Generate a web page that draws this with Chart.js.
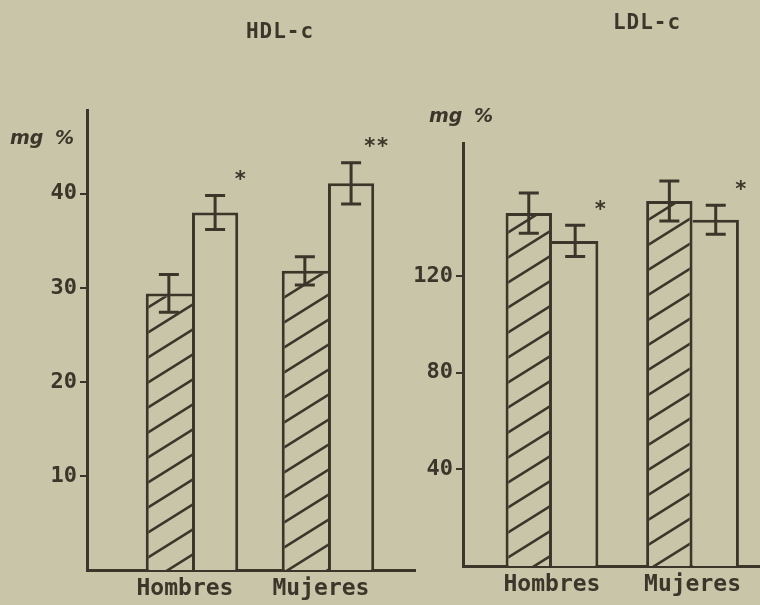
<!DOCTYPE html>
<html><head><meta charset="utf-8">
<script src="https://cdn.jsdelivr.net/npm/chart.js@4.4.1/dist/chart.umd.min.js"></script>
<style>
html,body{margin:0;padding:0;background:rgb(201,197,168);}
body{width:760px;height:605px;position:relative;overflow:hidden;}
canvas{position:absolute;top:0;}
.t{position:absolute;font-family:'DejaVu Sans Mono';font-weight:bold;color:rgb(60,53,42);font-size:21px;letter-spacing:1px;transform:translate(-50%,-50%);white-space:nowrap}
.u{position:absolute;font-family:'DejaVu Sans';font-style:italic;font-weight:bold;color:rgb(60,53,42);font-size:19px;transform:translate(-50%,-50%);white-space:nowrap;word-spacing:5px}
</style></head><body>
<canvas id="hdl" width="430" height="605" style="left:0"></canvas>
<canvas id="ldl" width="360" height="605" style="left:400px"></canvas>
<div class="t" style="left:280px;top:31px">HDL-c</div>
<div class="t" style="left:647px;top:22px">LDL-c</div>
<div class="u" style="left:42px;top:137px">mg %</div>
<div class="u" style="left:461px;top:115px">mg %</div>
<script>
// ---- data ----
const categories = ['Hombres', 'Mujeres'];
const hdlHatched = [29.4, 31.8];
const hdlHatchedErr = [2.0, 1.5];
const hdlWhite = [38.0, 41.1];
const hdlWhiteErr = [1.8, 2.2];
const hdlSig = ['*', '**'];
const hdlTicks = [10, 20, 30, 40];

const ldlHatched = [146.0, 151.0];
const ldlHatchedErr = [8.3, 8.3];
const ldlWhite = [134.5, 143.2];
const ldlWhiteErr = [6.5, 6.0];
const ldlSig = ['*', '*'];
const ldlTicks = [40, 80, 120];

// ---- style ----
const ink = 'rgb(60,53,42)';
const paper = 'rgb(201,197,168)';
const monoFont = 'DejaVu Sans Mono';

function hatch() {
  const W = 40, H = 25;
  const c = document.createElement('canvas'); c.width = W; c.height = H;
  const g = c.getContext('2d');
  g.fillStyle = paper; g.fillRect(0, 0, W, H);
  g.strokeStyle = ink; g.lineWidth = 2.6;
  for (const k of [-1, 0, 1]) {
    g.beginPath(); g.moveTo(-4, H + k * H + 4 * H / W); g.lineTo(W + 4, k * H - 4 * H / W); g.stroke();
  }
  return g.createPattern(c, 'repeat');
}

const errPlugin = {
  id: 'errbars',
  afterDatasetsDraw(chart) {
    const ctx = chart.ctx, y = chart.scales.y;
    ctx.save();
    ctx.strokeStyle = ink; ctx.lineWidth = 3; ctx.lineCap = 'butt';
    chart.data.datasets.forEach((ds, di) => {
      const meta = chart.getDatasetMeta(di);
      meta.data.forEach((el, i) => {
        const v = ds.data[i].y, e = ds.errors[i];
        const t = y.getPixelForValue(v + e), b = y.getPixelForValue(v - e);
        const x = el.x, cw = 10;
        ctx.beginPath();
        ctx.moveTo(x, t); ctx.lineTo(x, b);
        ctx.moveTo(x - cw, t); ctx.lineTo(x + cw, t);
        ctx.moveTo(x - cw, b); ctx.lineTo(x + cw, b);
        ctx.stroke();
        if (ds.sig && ds.sig[i]) {
          ctx.fillStyle = ink;
          ctx.font = 'bold 21px "' + monoFont + '"';
          ctx.textAlign = 'center'; ctx.textBaseline = 'middle';
          ctx.fillText(ds.sig[i], x + el.width / 2 + 2, t - 15);
        }
      });
    });
    ctx.restore();
  }
};

function makeChart(id, cfg) {
  const pattern = hatch();
  const pts = arr => arr.map((v, i) => ({ x: i + 1, y: v }));
  return new Chart(document.getElementById(id), {
    type: 'bar',
    data: {
      datasets: [
        { data: pts(cfg.hatched), errors: cfg.hatchedErr, backgroundColor: pattern,
          borderColor: ink, borderWidth: cfg.bwH, borderSkipped: false },
        { data: pts(cfg.white), errors: cfg.whiteErr, sig: cfg.sig, backgroundColor: paper,
          borderColor: ink, borderWidth: cfg.bwW, borderSkipped: false }
      ]
    },
    options: {
      responsive: false, animation: false, devicePixelRatio: 1,
      layout: { padding: cfg.padding },
      categoryPercentage: cfg.catPct, barPercentage: 1.0,
      plugins: { legend: { display: false }, tooltip: { enabled: false }, title: { display: false } },
      scales: {
        x: {
          type: 'linear', min: cfg.xmin, max: cfg.xmax, offset: false,
          afterBuildTicks: s => { s.ticks = categories.map((c, i) => ({ value: i + 1 })); },
          afterFit: s => { s.height = 35; },
          ticks: { callback: v => categories[v - 1] || '', color: ink, padding: 5, labelOffset: cfg.labelOffset,
                   font: { family: monoFont, size: 23, weight: 'bold' }, maxRotation: 0, autoSkip: false },
          grid: { display: false, drawTicks: false },
          border: { display: true, color: ink, width: 3 }
        },
        y: {
          min: 0, max: cfg.ymax,
          afterBuildTicks: s => { s.ticks = cfg.ticks.map(v => ({ value: v })); },
          afterFit: s => { s.width = cfg.yWidth; },
          ticks: { color: ink, padding: 3, font: { family: monoFont, size: 22, weight: 'bold' } },
          grid: { drawOnChartArea: false, drawTicks: true, tickLength: 7, color: ink, lineWidth: 2 },
          border: { display: true, color: ink, width: 3 }
        }
      }
    },
    plugins: [errPlugin]
  });
}

makeChart('hdl', {
  hatched: hdlHatched, hatchedErr: hdlHatchedErr, white: hdlWhite, whiteErr: hdlWhiteErr,
  sig: hdlSig, ticks: hdlTicks, ymax: 48.9, xmin: 0.228, xmax: 2.64, catPct: 0.68, labelOffset: -7,
  yWidth: 87, padding: { top: 110, left: 0, right: 15, bottom: 0 },
  bwH: { top: 3, left: 3, right: 0, bottom: 0 }, bwW: { top: 3, left: 3, right: 3, bottom: 0 }
});
makeChart('ldl', {
  hatched: ldlHatched, hatchedErr: ldlHatchedErr, white: ldlWhite, whiteErr: ldlWhiteErr,
  sig: ldlSig, ticks: ldlTicks, ymax: 175, xmin: 0.367, xmax: 2.48, catPct: 0.66, labelOffset: 0,
  yWidth: 63, padding: { top: 143, left: 0, right: 0, bottom: 4 },
  bwH: { top: 3, left: 3, right: 3, bottom: 0 }, bwW: { top: 3, left: 0, right: 3, bottom: 0 }
});
</script>
</body></html>
